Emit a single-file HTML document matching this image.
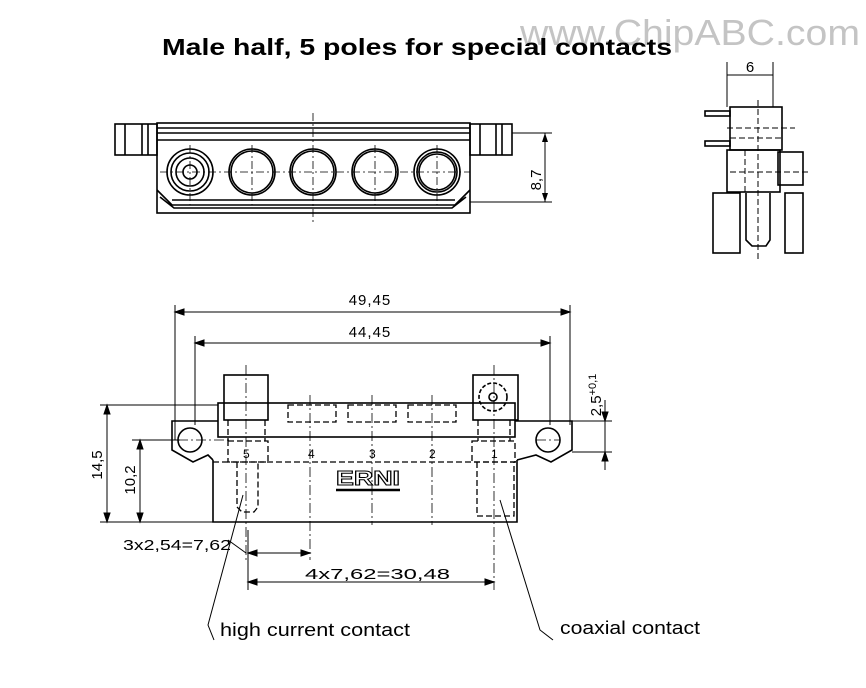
<!DOCTYPE html>
<html><head><style>
body{margin:0;background:#fff;width:866px;height:688px;overflow:hidden}
svg{position:absolute;left:0;top:0}
</style></head><body>
<svg width="866" height="688" viewBox="0 0 866 688" xmlns="http://www.w3.org/2000/svg" font-family="Liberation Sans, sans-serif">
<text x="520" y="45" font-size="36" fill="#c4c4c4" textLength="340" lengthAdjust="spacingAndGlyphs">www.ChipABC.com</text>
<text x="162" y="55" font-size="23" font-weight="bold" fill="#000" textLength="510" lengthAdjust="spacingAndGlyphs">Male half, 5 poles for special contacts</text>

<g stroke="#000" fill="none" stroke-width="1.6">
<rect x="157" y="123" width="313" height="90"/>
<line x1="157" y1="128" x2="470" y2="128"/><line x1="157" y1="133" x2="470" y2="133"/><line x1="157" y1="140" x2="470" y2="140"/>
<rect x="115" y="124" width="42" height="31"/><line x1="125" y1="124" x2="125" y2="155"/><line x1="142" y1="124" x2="142" y2="155"/><line x1="148" y1="124" x2="148" y2="155"/>
<rect x="470" y="124" width="42" height="31"/><line x1="480" y1="124" x2="480" y2="155"/><line x1="496" y1="124" x2="496" y2="155"/><line x1="502" y1="124" x2="502" y2="155"/>
<path d="M157 190 L172 205 L455 205 L470 190 M160 197 L174 208 L452 208 L466 197"/>
<line x1="172" y1="200" x2="455" y2="200"/>
<circle cx="190" cy="172" r="23"/><circle cx="190" cy="172" r="19"/><circle cx="190" cy="172" r="14"/><circle cx="190" cy="172" r="7"/>
<circle cx="252" cy="172" r="23"/><circle cx="252" cy="172" r="21"/>
<circle cx="313" cy="172" r="23"/><circle cx="313" cy="172" r="21"/>
<circle cx="375" cy="172" r="23"/><circle cx="375" cy="172" r="21"/>
<circle cx="437" cy="172" r="23"/><circle cx="437" cy="172" r="20"/><circle cx="437" cy="172" r="18"/>
<line x1="512" y1="133" x2="552" y2="133" stroke-width="1"/><line x1="470" y1="202" x2="552" y2="202" stroke-width="1"/>
<line x1="545" y1="133" x2="545" y2="202" stroke-width="1"/>
</g>
<g stroke="#000" stroke-width="0.8" stroke-dasharray="8,3,2,3" fill="none">
<line x1="313" y1="113" x2="313" y2="222"/>
<line x1="160" y1="172" x2="470" y2="172"/>
<line x1="190" y1="145" x2="190" y2="205"/><line x1="252" y1="145" x2="252" y2="205"/><line x1="375" y1="145" x2="375" y2="205"/><line x1="437" y1="145" x2="437" y2="205"/>
</g>
<path d="M545 133l-3 9h6zM545 202l-3-9h6z" fill="#000"/>
<text transform="translate(541,180) rotate(-90)" font-size="15" text-anchor="middle">8,7</text>

<!-- side view -->
<g stroke="#000" fill="none" stroke-width="1.6">
<line x1="727" y1="62" x2="727" y2="107" stroke-width="1"/><line x1="773" y1="62" x2="773" y2="107" stroke-width="1"/>
<line x1="727" y1="75" x2="773" y2="75" stroke-width="1"/>
<rect x="730" y="107" width="52" height="43"/>
<rect x="705" y="111" width="25" height="5"/><rect x="705" y="141" width="25" height="5"/>
<rect x="727" y="150" width="53" height="42"/>
<rect x="778" y="152" width="25" height="33"/>
<rect x="713" y="193" width="27" height="60"/>
<rect x="785" y="193" width="18" height="60"/>
<path d="M746 193 L746 240 L752 246 L766 246 L770 240 L770 193"/>
</g>
<g stroke="#000" fill="none" stroke-width="1" stroke-dasharray="6,3">
<line x1="727" y1="128" x2="795" y2="128"/><line x1="730" y1="138" x2="782" y2="138"/>
<line x1="758" y1="100" x2="758" y2="260"/><line x1="745" y1="150" x2="745" y2="192"/>
<line x1="730" y1="172" x2="810" y2="172"/>
</g>
<text x="750" y="72" font-size="15" text-anchor="middle">6</text>

<!-- front view -->
<g stroke="#000" fill="none" stroke-width="1.6">
<rect x="218" y="403" width="297" height="34"/>
<path d="M218 421 L172 421 L172 450 L193 462 L208 455 L213 460"/>
<path d="M515 421 L572 421 L572 450 L551 462 L536 455 L517 460"/>
<circle cx="190" cy="440" r="12"/><circle cx="548" cy="440" r="12"/>
<path d="M213 460 L213 522 L517 522 L517 460"/>
<rect x="224" y="375" width="44" height="45"/>
<rect x="473" y="375" width="45" height="45"/>
<circle cx="493" cy="397" r="14" stroke-dasharray="4,2"/><circle cx="493" cy="397" r="4"/>
<path d="M336 490 H400" stroke-width="2.5"/>
</g>
<g stroke="#000" fill="none" stroke-width="1.3" stroke-dasharray="6,3">
<line x1="213" y1="462" x2="517" y2="462"/>
<rect x="228" y="441" width="40" height="21"/>
<rect x="472" y="441" width="43" height="21"/>
<path d="M237 462 L237 507 L242 512 L254 512 L258 507 L258 462"/>
<path d="M477 462 L477 516 L514 516 L514 462"/>
<rect x="288" y="405" width="48" height="17"/><rect x="348" y="405" width="48" height="17"/><rect x="408" y="405" width="48" height="17"/>
<line x1="228" y1="420" x2="228" y2="441"/><line x1="265" y1="420" x2="265" y2="441"/>
<line x1="478" y1="420" x2="478" y2="441"/><line x1="510" y1="420" x2="510" y2="441"/>
</g>
<g stroke="#000" fill="none" stroke-width="0.8" stroke-dasharray="10,3,2,3">
<line x1="246" y1="365" x2="246" y2="560"/><line x1="310" y1="395" x2="310" y2="560"/>
<line x1="372" y1="395" x2="372" y2="525"/><line x1="432" y1="395" x2="432" y2="525"/>
<line x1="494" y1="365" x2="494" y2="590"/>
<line x1="178" y1="440" x2="230" y2="440"/><line x1="536" y1="440" x2="560" y2="440"/>
</g>
<g stroke="#000" fill="#000" stroke-width="1">
<line x1="175" y1="305" x2="175" y2="440"/><line x1="570" y1="305" x2="570" y2="425"/>
<line x1="195" y1="336" x2="195" y2="425"/><line x1="550" y1="336" x2="550" y2="425"/>
<line x1="175" y1="312" x2="570" y2="312"/><line x1="195" y1="343" x2="550" y2="343"/>
<line x1="100" y1="405" x2="218" y2="405"/><line x1="100" y1="522" x2="213" y2="522"/>
<line x1="107" y1="405" x2="107" y2="522"/>
<line x1="132" y1="440" x2="180" y2="440"/><line x1="140" y1="440" x2="140" y2="522"/>
<line x1="572" y1="421" x2="612" y2="421"/><line x1="572" y1="452" x2="612" y2="452"/>
<line x1="605" y1="400" x2="605" y2="470"/>
<line x1="248" y1="530" x2="248" y2="590"/>
<line x1="248" y1="553" x2="310" y2="553"/><line x1="228" y1="540" x2="246" y2="553"/>
<line x1="248" y1="582" x2="494" y2="582"/>
<polyline points="243,495 208,625 214,640" fill="none"/>
<polyline points="500,500 540,630 553,640" fill="none"/>
<path d="M175 312l9-3v6zM570 312l-9-3v6zM195 343l9-3v6zM550 343l-9-3v6zM107 405l-3 9h6zM107 522l-3-9h6zM140 440l-3 9h6zM140 522l-3-9h6zM605 421l-3-9h6zM605 452l-3 9h6zM248 553l9-3v6zM310 553l-9-3v6zM248 582l9-3v6zM494 582l-9-3v6z"/>
</g>
<g font-size="15" fill="#000">
<text x="370" y="305" text-anchor="middle" letter-spacing="1">49,45</text>
<text x="370" y="337" text-anchor="middle" letter-spacing="1">44,45</text>
<text transform="translate(102,465) rotate(-90)" text-anchor="middle">14,5</text>
<text transform="translate(135,480) rotate(-90)" text-anchor="middle">10,2</text>
<text transform="translate(601,395) rotate(-90)" text-anchor="middle">2,5<tspan font-size="11" dy="-5">+0,1</tspan></text>
<text x="123" y="550" textLength="108" lengthAdjust="spacingAndGlyphs">3x2,54=7,62</text>
<text x="305" y="579" textLength="145" lengthAdjust="spacingAndGlyphs">4x7,62=30,48</text>
<text x="243" y="458" font-size="12">5</text><text x="308" y="458" font-size="12">4</text><text x="369" y="458" font-size="12">3</text><text x="429" y="458" font-size="12">2</text><text x="491" y="458" font-size="12">1</text>
<text x="336" y="485" font-size="20" font-weight="bold" fill="#fff" stroke="#000" stroke-width="1" textLength="64" lengthAdjust="spacingAndGlyphs">ERNI</text>
<text x="220" y="636" font-size="18" textLength="190" lengthAdjust="spacingAndGlyphs">high current contact</text>
<text x="560" y="634" font-size="18" textLength="140" lengthAdjust="spacingAndGlyphs">coaxial contact</text>
</g>
</svg>
</body></html>
